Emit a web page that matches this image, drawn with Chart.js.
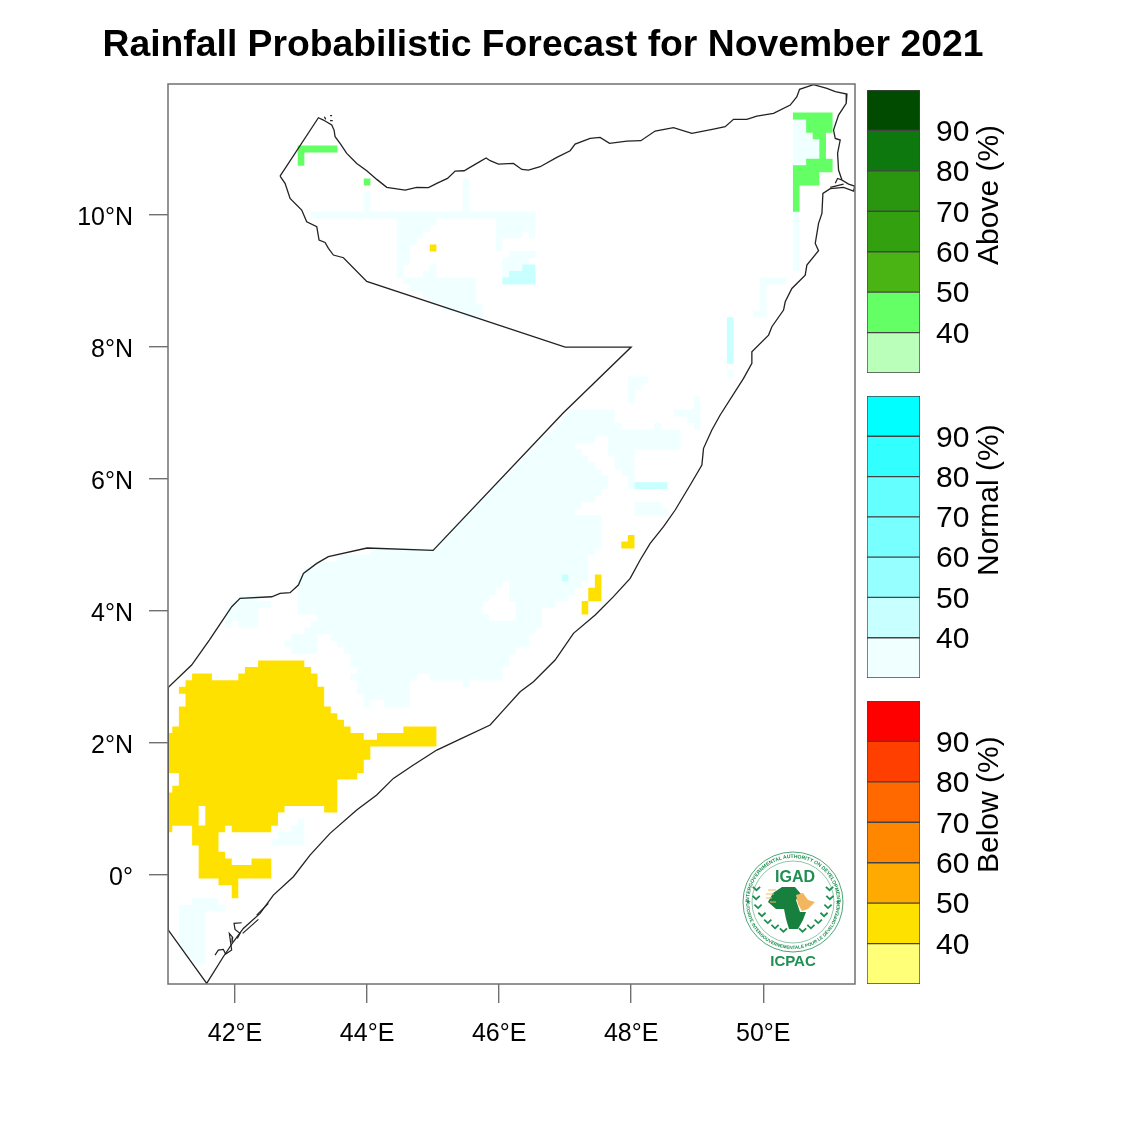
<!DOCTYPE html>
<html>
<head>
<meta charset="utf-8">
<title>Rainfall Probabilistic Forecast</title>
<script src="https://cdn.jsdelivr.net/npm/chart.js@4/dist/chart.umd.min.js"></script>
<style>
    html, body { margin: 0; padding: 0; background: #fff; }
    #page { position: relative; width: 1125px; height: 1125px; overflow: hidden; font-family: "Liberation Sans", Arial, sans-serif; }
    canvas { position: absolute; display: block; }
    #title { position: absolute; left: 0; width: 1086px; top: 22px; text-align: center; font-size: 37.3px; font-weight: bold; color: #000; white-space: nowrap; }
    .barTitle { position: absolute; left: 968px; width: 40px; height: 283px; writing-mode: vertical-rl; transform: rotate(180deg); text-align: center; font-size: 30px; line-height: 40px; color: #000; white-space: nowrap; }
    #logo { position: absolute; left: 730px; top: 840px; }
</style>
</head>
<body>
<div id="page">
    <canvas id="map" width="1125" height="1125" style="left:0;top:0"></canvas>
    <canvas id="barAbove" width="130" height="343" style="left:867px;top:60px"></canvas>
    <canvas id="barNormal" width="130" height="342" style="left:867px;top:366px"></canvas>
    <canvas id="barBelow" width="130" height="343" style="left:867px;top:671px"></canvas>
    <div id="title">Rainfall Probabilistic Forecast for November 2021</div>
    <div class="barTitle" style="top:53px">Above (%)</div>
    <div class="barTitle" style="top:359px">Normal (%)</div>
    <div class="barTitle" style="top:663px">Below (%)</div>
    <svg id="logo" width="126" height="136" viewBox="0 0 126 136"></svg>
</div>

<script>
// =============================
// DATA
// =============================
const lonRange = [40.985, 51.39];
const latRange = [-1.65, 11.985];
const lonTicks = [42, 44, 46, 48, 50];
const latTicks = [0, 2, 4, 6, 8, 10];

// country outline
const coastLon = [42.682,43.263,43.339,43.465,43.500,43.516,43.591,43.692,43.844,43.995,44.147,44.298,44.399,44.576,44.753,44.930,45.056,45.218,45.334,45.470,45.662,45.803,45.864,45.990,46.217,46.344,46.445,46.622,
    46.874,47.076,47.151,47.379,47.530,47.672,47.934,48.146,48.363,48.641,48.919,49.247,49.424,49.550,49.752,49.904,50.156,50.409,50.510,50.550,50.762,50.964,51.091,51.268,51.257,51.141,51.065,51.091,51.166,51.126,51.141,51.192,51.293,51.385,51.369,51.217,51.015,50.904,50.889,50.838,50.788,50.838,50.661,50.636,50.434,50.333,50.308,50.131,50.081,49.828,49.828,49.702,
    49.348,49.222,49.096,49.071,48.894,48.667,48.490,48.288,48.136,47.985,47.732,47.455,47.126,46.848,46.520,46.318,46.066,45.864,
    45.409,45.056,44.702,44.399,44.146,43.843,43.439,43.136,42.884,42.581,42.379,42.126,41.975,41.823,41.571,40.990,40.990,41.343,41.611,
    41.773,41.950,42.076,42.556,42.682,42.834,42.960,43.036,43.238,43.414,44.000,45.000,46.970,48.000,47.000,43.995,
    43.642,43.490,43.415,43.364,43.273,43.238,43.086,43.010,42.834,42.758,42.682];
const coastLat = [10.590,11.474,11.439,11.363,11.287,11.186,11.085,10.934,10.782,10.671,10.540,10.419,10.404,10.378,10.419,10.414,10.479,10.555,10.666,10.671,10.782,10.863,10.823,10.772,10.782,10.691,10.681,10.732,
    10.873,10.974,11.075,11.161,11.176,11.085,11.121,11.126,11.272,11.323,11.237,11.303,11.338,11.449,11.449,11.500,11.540,11.666,11.792,11.904,11.974,11.919,11.868,11.833,11.691,11.515,11.287,11.161,11.136,10.934,10.681,10.530,10.469,10.439,10.363,10.419,10.399,10.328,10.025,9.873,9.570,9.459,9.242,9.090,8.888,8.686,8.560,8.308,8.181,7.929,7.752,7.525,
    6.970,6.743,6.465,6.213,5.910,5.531,5.278,5.026,4.773,4.495,4.218,3.940,3.662,3.258,2.930,2.778,2.500,2.273,
    2.061,1.894,1.667,1.465,1.213,0.985,0.632,0.303,-0.025,-0.303,-0.580,-0.808,-1.010,-1.237,-1.641,-0.833,2.844,3.182,3.561,
    3.803,4.066,4.192,4.217,4.268,4.278,4.394,4.571,4.722,4.824,4.955,4.920,7.000,8.000,8.000,8.994,
    9.353,9.394,9.495,9.585,9.621,9.823,9.898,10.075,10.252,10.479,10.590];

// small islands, null breaks the line
const isleLon = [41.697,41.747,41.823,41.859,41.949,41.914,41.965,41.955,null,42.035,42.076,42.000,41.985,42.101,null,42.116,42.354,null,42.328,42.505,null,43.440,43.470,null,43.440,43.480,null,43.354,43.374,null,51.015,51.217,null,51.091,51.126,51.192];
const isleLat = [-1.212,-1.136,-1.126,-1.197,-1.136,-0.883,-0.944,-1.025,null,-0.960,-0.883,-0.823,-0.732,-0.722,null,-0.883,-0.671,null,-0.606,-0.429,null,11.505,11.505,null,11.429,11.429,null,11.490,11.449,null,10.419,10.469,null,10.480,10.555,10.530];

// forecast cells, one run per row: [lat, lon from, lon to]
const aboveRuns = [
    [11.0,42.95,43.55],[10.9,42.95,43.05],[10.8,42.95,43.05],[10.5,43.95,44.05],
    [11.5,50.45,51.05],[11.4,50.65,51.05],[11.3,50.65,51.05],[11.2,50.75,50.95],[11.1,50.85,50.95],[11.0,50.85,50.95],[10.9,50.85,50.95],
    [10.8,50.65,51.05],[10.7,50.45,51.05],[10.6,50.45,50.85],[10.5,50.45,50.85],[10.4,50.45,50.55],[10.3,50.45,50.55],[10.2,50.45,50.55],[10.1,50.45,50.55]
];
const belowRuns = [
    [3.2,42.35,43.05],[3.1,42.15,43.15],[3.0,41.35,41.65],[3.0,42.05,43.25],[2.9,41.25,43.25],[2.8,41.15,43.35],[2.7,41.25,43.35],[2.6,41.25,43.35],
    [2.5,41.15,43.45],[2.4,41.15,43.55],[2.3,41.15,43.65],[2.2,41.05,43.75],[2.2,44.55,45.05],[2.1,40.95,43.95],[2.1,44.15,45.05],[2.0,40.95,45.05],
    [1.9,40.95,44.05],[1.8,40.95,44.05],[1.7,40.95,43.95],[1.6,40.95,43.95],[1.5,41.15,43.85],[1.4,41.15,43.55],[1.3,41.05,43.55],[1.2,40.95,43.55],[1.1,40.95,43.55],
    [1.0,40.95,41.45],[1.0,41.55,42.75],[1.0,43.35,43.55],[0.9,40.95,41.45],[0.9,41.55,42.65],[0.8,40.95,41.45],[0.8,41.55,42.65],
    [0.7,40.95,41.05],[0.7,41.35,41.85],[0.7,41.95,42.55],[0.6,41.35,41.75],[0.5,41.35,41.75],[0.4,41.45,41.75],[0.3,41.45,41.85],
    [0.2,41.45,41.95],[0.2,42.25,42.55],[0.1,41.45,42.55],[0.0,41.45,42.55],[-0.1,41.75,42.05],[-0.2,41.95,42.05],[-0.3,41.95,42.05],
    [9.5,44.95,45.05],[5.1,47.95,48.05],[5.0,47.85,48.05],[4.5,47.45,47.55],[4.4,47.45,47.55],[4.3,47.35,47.55],[4.2,47.35,47.55],[4.1,47.25,47.35],[4.0,47.25,47.35]
];
const normalHighRuns = [
    [9.2,46.35,46.55],[9.1,46.15,46.55],[9.0,46.05,46.55],[5.9,48.05,48.55],[4.5,46.95,47.05],
    [8.4,49.45,49.55],[8.3,49.45,49.55],[8.2,49.45,49.55],[8.1,49.45,49.55],[8.0,49.45,49.55],[7.9,49.45,49.55],[7.8,49.45,49.55]
];
const normalLowRuns = [
    [10.5,45.45,45.55],[10.4,45.45,45.55],[10.3,45.45,45.55],[10.2,45.45,45.55],[10.1,45.45,45.55],[10.3,43.95,44.05],[10.2,43.95,44.05],[10.1,43.95,44.05],
    [10.0,43.15,46.55],[9.9,44.45,45.05],[9.9,45.95,46.55],[9.8,44.45,44.95],[9.8,45.95,46.55],[9.7,44.45,44.85],[9.7,45.95,46.35],[9.7,46.45,46.55],
    [9.6,44.45,44.75],[9.6,45.95,46.05],[9.5,44.45,44.65],[9.5,45.95,46.05],[9.4,44.45,44.65],[9.4,46.15,46.55],[9.3,44.45,44.65],[9.3,46.05,46.45],
    [9.2,44.45,44.55],[9.2,44.95,45.05],[9.2,46.05,46.35],[9.1,44.45,44.55],[9.1,44.85,45.05],[9.1,46.05,46.15],
    [9.0,44.55,45.65],[8.9,44.65,45.65],[8.8,44.85,45.65],[8.7,44.95,45.65],[8.6,45.15,45.75],[8.5,45.45,45.75],
    // north east column
    [11.4,50.45,50.65],[11.3,50.45,50.65],[11.2,50.45,50.75],[11.1,50.45,50.85],[11.0,50.45,50.85],[10.9,50.45,50.85],[10.8,50.45,50.65],
    [10.0,50.45,50.55],[9.9,50.45,50.55],[9.8,50.45,50.55],[9.7,50.45,50.55],[9.6,50.45,50.55],[9.5,50.45,50.55],[9.4,50.45,50.55],[9.3,50.45,50.55],[9.2,50.45,50.55],
    [9.0,49.95,50.35],[8.9,49.95,50.05],[8.8,49.95,50.05],[8.7,49.95,50.05],[8.6,49.95,50.05],[8.5,49.85,50.05],[7.6,49.45,49.55],
    // main body
    [7.5,47.95,48.25],[7.4,47.95,48.15],[7.3,47.95,48.05],[7.2,47.95,48.05],[7.2,48.95,49.05],[7.1,48.95,49.05],
    [7.0,47.05,47.75],[7.0,48.65,49.05],[6.9,46.95,47.75],[6.9,48.85,49.05],[6.8,46.85,47.85],[6.8,48.35,48.45],[6.8,48.95,49.05],[6.7,46.75,48.75],
    [6.6,46.65,47.45],[6.6,47.65,48.75],[6.5,46.55,47.15],[6.5,47.65,48.75],[6.4,46.45,47.25],[6.4,47.65,48.05],[6.3,46.35,47.35],[6.3,47.75,48.05],
    [6.2,46.25,47.45],[6.2,47.75,48.05],[6.1,46.15,47.55],[6.1,47.85,48.05],[6.0,46.05,47.65],[6.0,47.95,48.05],[5.9,45.95,47.65],[5.9,47.95,48.05],
    [5.8,45.85,47.55],[5.7,45.75,47.45],[5.6,45.65,47.25],[5.6,48.05,48.45],[5.5,45.55,47.15],[5.5,48.05,48.55],[5.4,45.45,47.55],[5.3,45.35,47.55],
    [5.2,45.25,47.55],[5.1,45.15,47.55],[5.0,45.05,47.55],[4.9,44.05,47.45],[4.8,43.55,47.35],[4.7,43.25,47.35],[4.6,43.05,47.35],
    [4.5,42.95,46.95],[4.5,47.05,47.35],[4.4,42.95,46.05],[4.4,46.15,47.25],[4.3,42.95,45.95],[4.3,46.15,47.15],[4.2,42.95,45.85],[4.2,46.15,47.05],
    [4.1,42.95,45.75],[4.1,46.25,46.85],[4.0,42.95,45.75],[4.0,46.25,46.65],[3.9,43.25,45.85],[3.9,46.25,46.65],[3.8,43.15,46.65],[3.7,43.05,46.55],
    [3.6,42.85,43.25],[3.6,43.45,46.45],[3.5,42.75,43.25],[3.5,43.55,46.45],[3.4,42.85,43.25],[3.4,43.65,46.25],[3.3,43.75,46.15],[3.2,43.75,46.15],
    [3.1,43.85,46.05],[3.0,43.75,44.75],[3.0,44.95,46.05],[2.9,43.85,44.65],[2.9,45.45,45.55],[2.8,43.85,44.65],[2.7,43.95,44.65],[2.6,43.95,44.05],[2.6,44.25,44.65],
    // south west patches
    [4.2,42.05,42.35],[4.1,41.95,42.55],[4.0,41.85,42.35],[3.9,41.85,42.35],[3.8,41.85,41.95],[3.8,42.05,42.35],
    [0.8,42.95,43.05],[0.7,42.85,43.05],[0.6,42.65,43.05],[0.5,42.55,43.05],
    [-0.4,41.35,41.75],[-0.5,41.15,41.85],[-0.6,41.15,41.55],[-0.7,41.15,41.55],[-0.8,41.15,41.55],[-0.9,41.15,41.55],[-1.0,41.15,41.55],[-1.1,41.15,41.55],[-1.2,41.25,41.55],[-1.3,41.35,41.55]
];

// colour bars
const barLevels = [30, 40, 50, 60, 70, 80, 90, 100];
const barTicks = [40, 50, 60, 70, 80, 90];
const aboveColors = ["#baffba", "#64ff64", "#4ab414", "#33a010", "#2a9610", "#0d780d", "#004b00"];
const normalColors = ["#f0ffff", "#c8ffff", "#96ffff", "#78ffff", "#64ffff", "#32ffff", "#00ffff"];
const belowColors = ["#ffff78", "#ffe100", "#ffaa00", "#ff8700", "#ff6900", "#ff3f00", "#ff0000"];

// =============================
// MAP
// =============================
const FONT = '"Liberation Sans", Arial, sans-serif';
const AXIS_GREY = "#707070";

function linePoints(lons, lats) {
    return lons.map((lon, i) => ({x: lon, y: lats[i]}));
}

function runPoints(runs) {
    const pts = [];
    runs.forEach(r => {
        pts.push({x: r[1], y: r[0]}, {x: r[2], y: r[0]}, {x: null, y: null});
    });
    return pts;
}

// a row of cells is a thick flat line, 0.1 degrees high
function cellSet(runs, color) {
    return {
        data: runPoints(runs),
        showLine: true,
        spanGaps: false,
        borderColor: color,
        borderWidth: 6.9,
        borderCapStyle: "butt",
        pointRadius: 0
    };
}

const framePlugin = {
    id: "frame",
    afterDatasetsDraw(chart) {
        const a = chart.chartArea;
        const ctx = chart.ctx;
        ctx.save();
        ctx.strokeStyle = AXIS_GREY;
        ctx.lineWidth = 1.5;
        ctx.strokeRect(a.left, a.top, a.right - a.left, a.bottom - a.top);
        ctx.restore();
    }
};

new Chart(document.getElementById("map"), {
    type: "scatter",
    data: {
        datasets: [
            {data: linePoints(coastLon, coastLat), showLine: true, borderColor: "#222", borderWidth: 1.3, pointRadius: 0},
            {data: linePoints(isleLon, isleLat), showLine: true, spanGaps: false, borderColor: "#222", borderWidth: 1.2, pointRadius: 0},
            cellSet(aboveRuns, "#64ff64"),
            cellSet(belowRuns, "#ffe100"),
            cellSet(normalHighRuns, "#c8ffff"),
            cellSet(normalLowRuns, "#f0ffff")
        ]
    },
    options: {
        responsive: false,
        animation: false,
        layout: {padding: {left: 50, top: 84, right: 270, bottom: 81}},
        plugins: {legend: {display: false}, tooltip: {enabled: false}},
        scales: {
            x: {
                type: "linear",
                min: lonRange[0],
                max: lonRange[1],
                afterBuildTicks: s => { s.ticks = lonTicks.map(v => ({value: v})); },
                afterFit: s => { s.height = 60; },
                border: {display: false},
                grid: {drawOnChartArea: false, tickLength: 19, color: AXIS_GREY, lineWidth: 1.4},
                ticks: {
                    autoSkip: false, maxRotation: 0, padding: 16, color: "#000",
                    font: {family: FONT, size: 25},
                    callback: v => v + "°E"
                }
            },
            y: {
                type: "linear",
                min: latRange[0],
                max: latRange[1],
                afterBuildTicks: s => { s.ticks = latTicks.map(v => ({value: v})); },
                afterFit: s => { s.width = 118; },
                border: {display: false},
                grid: {drawOnChartArea: false, tickLength: 19, color: AXIS_GREY, lineWidth: 1.4},
                ticks: {
                    autoSkip: false, padding: 16, color: "#000",
                    font: {family: FONT, size: 25, lineHeight: "6px"},
                    // empty first line nudges the label down to the tick
                    callback: v => ["", v === 0 ? "0°" : v + "°N"]
                }
            }
        }
    },
    plugins: [framePlugin]
});

// =============================
// COLOUR BARS
// =============================
function drawBar(id, colors) {
    new Chart(document.getElementById(id), {
        type: "bar",
        data: {
            labels: [""],
            datasets: colors.map((c, i) => ({
                data: [[barLevels[i], barLevels[i + 1]]],
                backgroundColor: c,
                borderColor: "#444",
                borderWidth: 1,
                borderSkipped: false
            }))
        },
        options: {
            responsive: false,
            animation: false,
            barPercentage: 1,
            categoryPercentage: 1,
            grouped: false,
            layout: {padding: {top: 30, bottom: 30, left: 0, right: 0}},
            plugins: {legend: {display: false}, tooltip: {enabled: false}},
            scales: {
                x: {display: false},
                y: {
                    position: "right",
                    min: barLevels[0],
                    max: barLevels[barLevels.length - 1],
                    afterBuildTicks: s => { s.ticks = barTicks.map(v => ({value: v})); },
                    afterFit: s => { s.width = 77; },
                    border: {display: false},
                    grid: {display: false},
                    ticks: {
                        autoSkip: false, padding: 8, color: "#000",
                        font: {family: FONT, size: 30, lineHeight: "4px"},
                        callback: v => ["", String(v)]
                    }
                }
            }
        }
    });
}

drawBar("barAbove", aboveColors);
drawBar("barNormal", normalColors);
drawBar("barBelow", belowColors);

// =============================
// LOGO
// =============================
function drawLogo() {
    const green = "#1f8f52";
    const cx = 63, cy = 62;
    let s = `
        <circle cx="${cx}" cy="${cy}" r="50" fill="#fff" stroke="${green}" stroke-width="0.8"/>
        <circle cx="${cx}" cy="${cy}" r="41" fill="none" stroke="${green}" stroke-width="0.5"/>
        <defs>
            <path id="arcTop" d="M ${cx - 44} ${cy} A 44 44 0 0 1 ${cx + 44} ${cy}"/>
            <path id="arcBot" d="M ${cx - 47} ${cy} A 47 47 0 0 0 ${cx + 47} ${cy}"/>
        </defs>
        <text font-size="5.1" font-family="Liberation Sans" font-weight="bold" fill="${green}"><textPath href="#arcTop" startOffset="50%" text-anchor="middle">INTERGOVERNMENTAL AUTHORITY ON DEVELOPMENT</textPath></text>
        <text font-size="4.6" font-family="Liberation Sans" font-weight="bold" fill="${green}"><textPath href="#arcBot" startOffset="50%" text-anchor="middle">AUTORITÉ INTERGOUVERNEMENTALE POUR LE DÉVELOPPEMENT</textPath></text>
        <text x="18" y="64" font-size="7" fill="${green}" text-anchor="middle">★</text>
        <text x="108" y="64" font-size="7" fill="${green}" text-anchor="middle">★</text>
        <text x="65" y="42" font-size="16" font-family="Liberation Sans" font-weight="bold" fill="${green}" text-anchor="middle">IGAD</text>
        <text x="63" y="126" font-size="15" font-family="Liberation Sans" font-weight="bold" fill="${green}" text-anchor="middle">ICPAC</text>
        <path d="M43,53 L52,47 L65,47 L71,54 L66,60 L70,72 L76,72 L73,80 L68,89 L59,89 L56,79 L54,69 L46,69 L38,62 Z" fill="#17803f"/>
        <path d="M66,55 L73,53 L78,60 L85,62 L78,69 L72,71 L68,64 Z" fill="#f2b75e"/>
        <path d="M38,50 L46,50 M36,54 L44,54 M36,58 L42,58 M40,62 L46,62" stroke="#f2b75e" stroke-width="1.2"/>`;
    // laurel leaves on both sides
    for (let a = 105; a <= 201; a += 14) {
        const r = a * Math.PI / 180;
        [1, -1].forEach(side => {
            const x = cx + side * Math.cos(r) * 37;
            const y = cy - 6 + Math.sin(Math.PI - r) * 37;
            const bx = 3.6;
            s += `<path d="M${x - bx},${y - 3.4} L${x},${y} L${x + bx},${y - 3.4}" fill="none" stroke="${green}" stroke-width="1.8"/>`;
        });
    }
    document.getElementById("logo").innerHTML = s;
}

drawLogo();
</script>
</body>
</html>
